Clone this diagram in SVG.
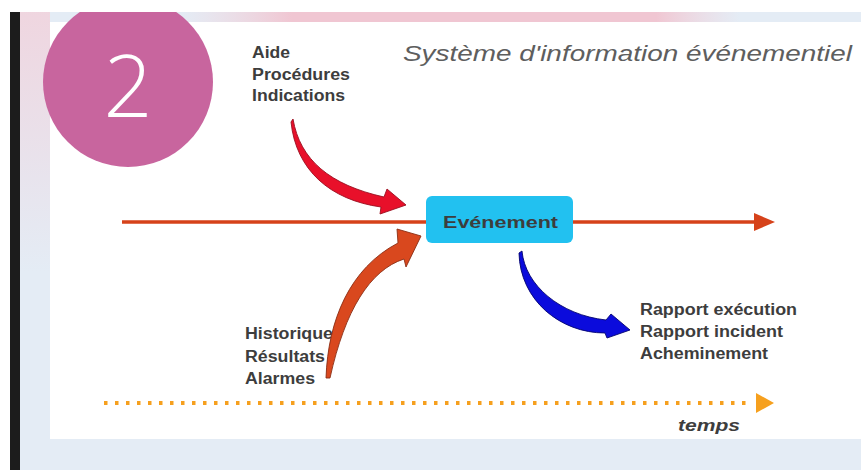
<svg xmlns="http://www.w3.org/2000/svg" width="861" height="470" viewBox="0 0 861 470">
  <defs>
    <style>
      .lbl { font-family: "Liberation Sans", Arial, sans-serif; font-weight: bold; font-size: 16px; fill: #3d3d3d; }
      .ttl { font-family: "Liberation Sans", Arial, sans-serif; font-style: italic; font-size: 22px; fill: #5e5e5e; }
      .fat { stroke-width: 0.9; stroke-linejoin: round; }
    </style>
    <linearGradient id="pinkTop" x1="0" y1="0" x2="1" y2="0">
      <stop offset="0" stop-color="#f3d4dc" stop-opacity="0"/>
      <stop offset="0.2" stop-color="#f0c6d2"/>
      <stop offset="0.85" stop-color="#f0c6d2"/>
      <stop offset="1" stop-color="#f3d4dc" stop-opacity="0"/>
    </linearGradient>
    <linearGradient id="pinkLeft" x1="0" y1="0" x2="0" y2="1">
      <stop offset="0" stop-color="#f2d0da"/>
      <stop offset="1" stop-color="#f2d0da" stop-opacity="0"/>
    </linearGradient>
    <clipPath id="screen">
      <rect x="0" y="12" width="861" height="458"/>
    </clipPath>
  </defs>

  <!-- background -->
  <rect x="0" y="0" width="861" height="470" fill="#ffffff"/>
  <rect x="20" y="12" width="841" height="458" fill="#e4ecf5"/>
  <rect x="180" y="12" width="560" height="10" fill="url(#pinkTop)"/>
  <rect x="20" y="12" width="30" height="260" fill="url(#pinkLeft)" opacity="0.8"/>
  <rect x="10" y="12" width="10" height="458" fill="#1c1c1c"/>
  <rect x="50" y="22" width="811" height="417" fill="#ffffff"/>

  <!-- badge -->
  <g id="badge" clip-path="url(#screen)">
    <circle cx="128" cy="82" r="85" fill="#c8659e"/>
    <text x="128" y="117" text-anchor="middle" font-family="'Open Sans', 'Liberation Sans', sans-serif" font-weight="300" font-size="86" fill="#ffffff">2</text>
  </g>

  <!-- title -->
  <g id="title">
    <text class="ttl" x="403" y="61" textLength="449" lengthAdjust="spacingAndGlyphs">Système d'information événementiel</text>
  </g>

  <!-- inputs from above -->
  <g id="aide">
    <text class="lbl" x="252" y="58" textLength="38" lengthAdjust="spacingAndGlyphs">Aide</text>
    <text class="lbl" x="252" y="80" textLength="98" lengthAdjust="spacingAndGlyphs">Procédures</text>
    <text class="lbl" x="252" y="101" textLength="93" lengthAdjust="spacingAndGlyphs">Indications</text>
  </g>

  <!-- inputs from below -->
  <g id="historique">
    <text class="lbl" x="245" y="339" textLength="88" lengthAdjust="spacingAndGlyphs">Historique</text>
    <text class="lbl" x="245" y="362" textLength="80" lengthAdjust="spacingAndGlyphs">Résultats</text>
    <text class="lbl" x="245" y="384" textLength="70" lengthAdjust="spacingAndGlyphs">Alarmes</text>
  </g>

  <!-- outputs -->
  <g id="rapport">
    <text class="lbl" x="640" y="315" textLength="157" lengthAdjust="spacingAndGlyphs">Rapport exécution</text>
    <text class="lbl" x="640" y="337" textLength="143" lengthAdjust="spacingAndGlyphs">Rapport incident</text>
    <text class="lbl" x="640" y="359" textLength="128" lengthAdjust="spacingAndGlyphs">Acheminement</text>
  </g>

  <!-- time label -->
  <g id="temps">
    <text class="lbl" x="678" y="431" font-size="18" font-style="italic" fill="#505050" textLength="62" lengthAdjust="spacingAndGlyphs">temps</text>
  </g>

  <!-- connectors -->
  <g id="connectors">
    <!-- time axis (main line) -->
    <line x1="122" y1="222" x2="758" y2="222" stroke="#d6421a" stroke-width="3.5"/>
    <polygon points="754,213 775,222 754,231" fill="#d6421a"/>
    <!-- dotted time axis -->
    <line x1="104" y1="403" x2="752" y2="403" stroke="#f6a01e" stroke-width="4" stroke-dasharray="3.5 7.5"/>
    <polygon points="756,393 774,403 756,413" fill="#f6a01e"/>
    <!-- red input arrow -->
    <path class="fat" d="M293,119 C300,160 330,185 384,197 L387,189 L406,205 L380,214 L381,207 C330,200 296,170 291,122 Z" fill="#e8102a" stroke="#9a1020"/>
    <!-- orange input arrow -->
    <path class="fat" d="M326,378 C328,320 350,268 398,243 L397,229 L421,236 L406,267 L404,259 C370,270 345,310 330,378 Z" fill="#d9481e" stroke="#8a2e14"/>
    <!-- blue output arrow -->
    <path class="fat" d="M522,251 C525,285 560,315 606,320 L611,314 L630,330 L607,338 L605,333 C560,333 520,300 519,253 Z" fill="#0b0bdc" stroke="#06066e"/>
  </g>

  <!-- event node -->
  <g id="evenement">
    <rect x="426" y="196" width="147" height="47" rx="6" ry="6" fill="#22c1f0"/>
    <text class="lbl" x="443" y="228" font-size="19" textLength="115" lengthAdjust="spacingAndGlyphs">Evénement</text>
  </g>
</svg>
